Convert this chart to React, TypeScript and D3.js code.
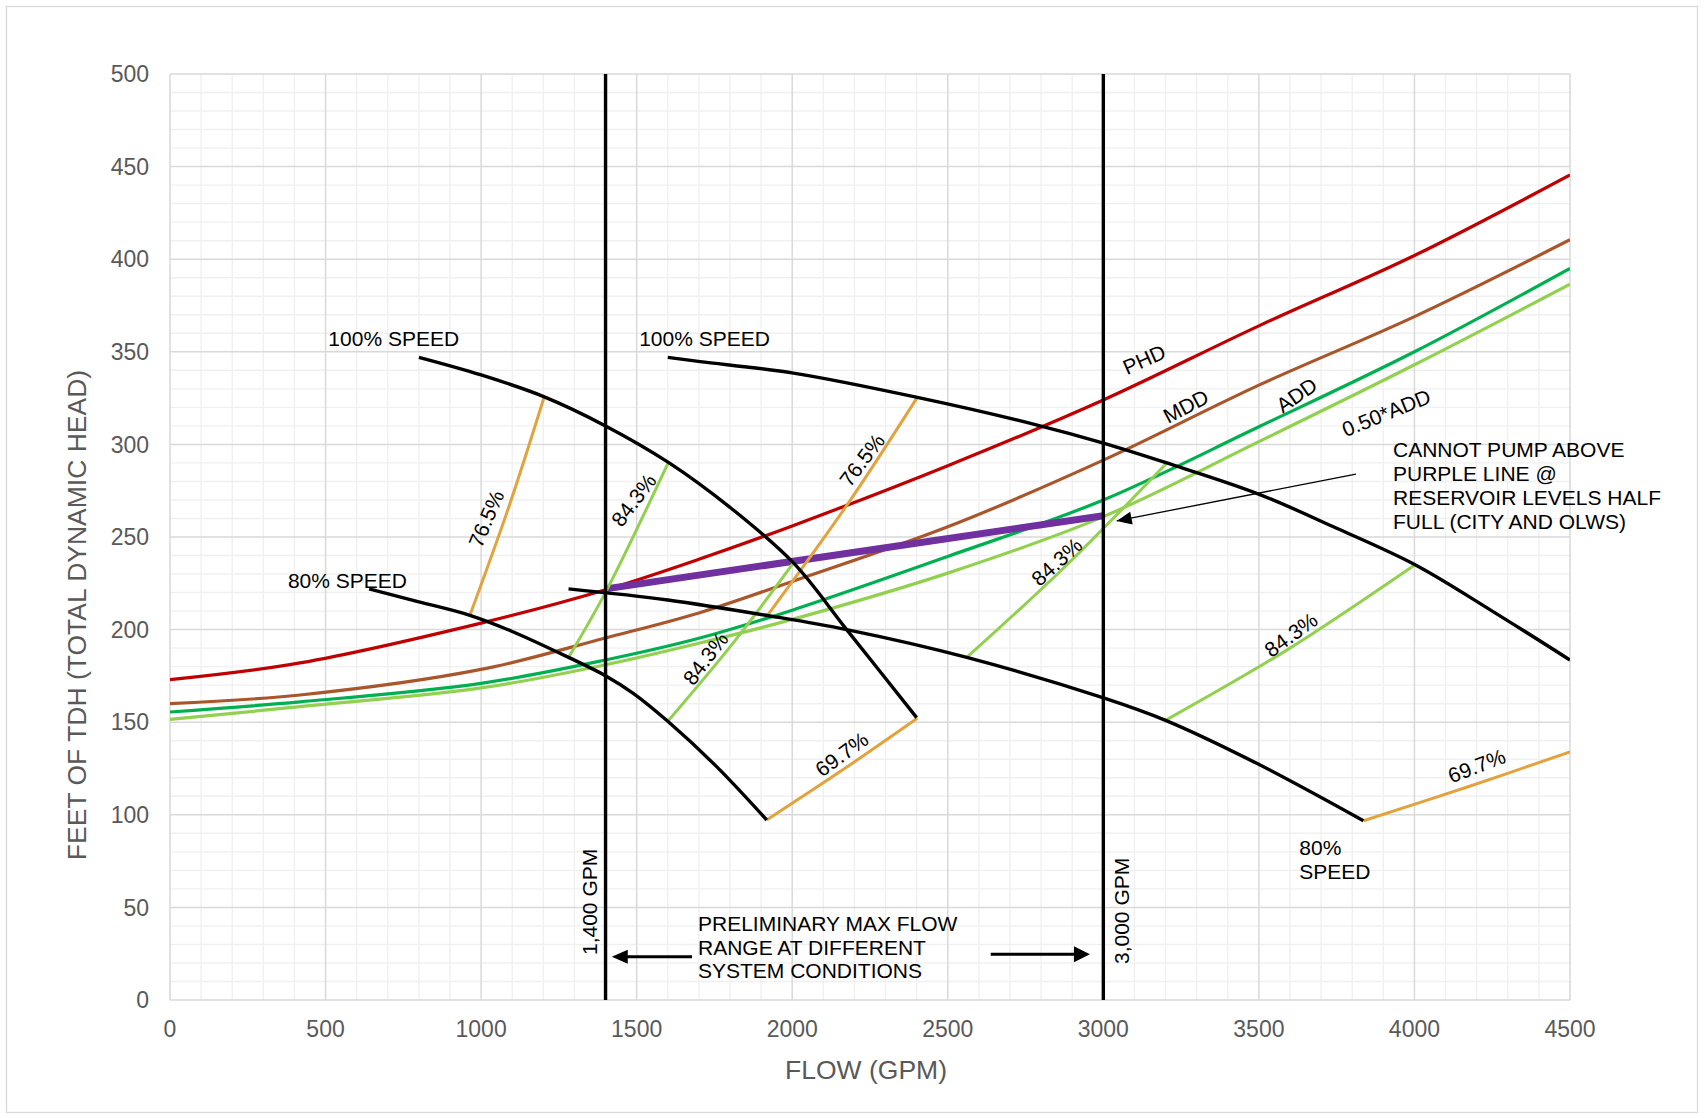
import React from 'react';
import * as d3 from 'd3';

type P = [number, number];

// ---------- axis ticks ----------
const xTicks = [0, 500, 1000, 1500, 2000, 2500, 3000, 3500, 4000, 4500];
const yTicks = [0, 50, 100, 150, 200, 250, 300, 350, 400, 450, 500];

// ---------- system curves (GPM, ft) ----------
const phd: P[] = [[0, 173], [418, 182], [1000, 203.5], [1400, 221.5], [1700, 238], [2000, 256], [2500, 288.5], [3000, 324], [3500, 364], [4000, 402], [4500, 445.5]];
const mdd: P[] = [[0, 160], [418, 164.7], [1000, 178.5], [1400, 195.5], [1700, 209], [2000, 226], [2500, 255.5], [3000, 291.5], [3500, 332], [4000, 369], [4500, 410.5]];
const add: P[] = [[0, 155.5], [418, 161], [1000, 171], [1400, 183.6], [1700, 195.3], [2000, 210.5], [2500, 239.5], [3000, 270], [3500, 309.5], [4000, 350], [4500, 395]];
const halfAdd: P[] = [[0, 151.5], [418, 158.4], [1000, 168.5], [1400, 181], [1700, 192.6], [2000, 205.5], [2500, 230.5], [3000, 261], [3500, 301.5], [4000, 343], [4500, 386.5]];

// ---------- pump curves ----------
const pumpA100: P[] = [[800, 347], [1000, 337.5], [1203, 325.7], [1400, 310], [1602, 290.3], [1800, 266], [2004, 236], [2175, 200], [2400, 152.5]];
const pumpA80: P[] = [[640, 222], [800, 215], [964, 207.7], [1100, 199], [1281, 185], [1401, 175], [1489, 165.6], [1600, 150.5], [1757, 126], [1918, 97.2]];
const pumpB100: P[] = [[1600, 347], [1704, 344.7], [2004, 338.5], [2402, 325.4], [2775, 311], [3003, 300.6], [3204, 290], [3493, 273.6], [3750, 254.7], [4002, 235], [4250, 210], [4500, 183.6]];
const pumpB80: P[] = [[1281, 222], [1600, 216], [1920, 207.6], [2175, 200], [2561, 185], [3003, 163], [3200, 151], [3493, 127.8], [3836, 96.8]];

// ---------- efficiency curves ----------
const eff765A: P[] = [[964, 207.7], [1090, 266.7], [1203, 325.7]];
const eff765B: P[] = [[1920, 207.6], [2175, 267], [2402, 325.4]];
const eff843A: P[] = [[1281, 185], [1401, 220.5], [1602, 290.3]];
const eff843B: P[] = [[1600, 150.5], [1811, 193], [2004, 236]];
const eff843C: P[] = [[2561, 185], [2880, 234.5], [3204, 290]];
const eff843D: P[] = [[3200, 151], [3600, 190], [4002, 235]];
const eff697A: P[] = [[1918, 97.2], [2160, 124], [2402, 152.1]];
const eff697B: P[] = [[3836, 96.8], [4170, 115], [4500, 134]];

// ---------- purple limit ----------
const purple: P[] = [[1400, 222], [3000, 261.5]];

// ---------- vertical flow markers ----------
const markers = [1400, 3000];

// ---------- labels ----------
const effLabels: { t: string; q: number; h: number; r: number }[] = [
  { t: '76.5%', q: 1016, h: 259.9, r: -67 },
  { t: '84.3%', q: 1490, h: 270, r: -53 },
  { t: '84.3%', q: 1721, h: 184.5, r: -53 },
  { t: '76.5%', q: 2224, h: 291.6, r: -53 },
  { t: '84.3%', q: 2850, h: 236.7, r: -42 },
  { t: '84.3%', q: 3603, h: 197.3, r: -36 },
  { t: '69.7%', q: 2159, h: 132.8, r: -36 },
  { t: '69.7%', q: 4200, h: 126.5, r: -21 },
];
const sysLabels: { t: string; q: number; h: number; r: number }[] = [
  { t: 'PHD', q: 3131, h: 345.9, r: -24 },
  { t: 'MDD', q: 3265, h: 320.7, r: -28 },
  { t: 'ADD', q: 3621, h: 326.7, r: -35 },
  { t: '0.50*ADD', q: 3909, h: 317.1, r: -22 },
];
const speedLabels: { t: string; q: number; h: number }[] = [
  { t: '100% SPEED', q: 509, h: 353.1 },
  { t: '100% SPEED', q: 1508, h: 353.1 },
  { t: '80% SPEED', q: 379, h: 222.5 },
  { t: '80%', q: 3630, h: 78.3 },
  { t: 'SPEED', q: 3630, h: 65.2 },
];
const noteLines = ['CANNOT PUMP ABOVE', 'PURPLE LINE @', 'RESERVOIR LEVELS HALF', 'FULL (CITY AND OLWS)'];
const rangeLines = ['PRELIMINARY MAX FLOW', 'RANGE AT DIFFERENT', 'SYSTEM CONDITIONS'];

const FONT = '"Liberation Sans", Arial, Helvetica, sans-serif';

function arrowHead(tx: number, ty: number, fx: number, fy: number, len: number, hw: number) {
  const dx = tx - fx, dy = ty - fy;
  const d = Math.hypot(dx, dy);
  const ux = dx / d, uy = dy / d;
  const bx = tx - ux * len, by = ty - uy * len;
  return `${tx},${ty} ${bx - uy * hw},${by + ux * hw} ${bx + uy * hw},${by - ux * hw}`;
}

export default function App() {
  const W = 1705, H = 1118;
  const x = d3.scaleLinear().domain([0, 4500]).range([170, 1570]);
  const y = d3.scaleLinear().domain([0, 500]).range([1000, 74]);
  const line = d3.line<P>().x(d => x(d[0])).y(d => y(d[1])).curve(d3.curveCatmullRom.alpha(0.5));

  const xMinor = d3.range(0, 4501, 100).filter(v => v % 500 !== 0);
  const yMinor = d3.range(0, 501, 10).filter(v => v % 50 !== 0);

  const sys = [
    { d: phd, c: '#c00000' },
    { d: mdd, c: '#a9562c' },
    { d: add, c: '#00b050' },
    { d: halfAdd, c: '#92d050' },
  ];
  const effs = [
    { d: eff765A, c: '#e2a33e' }, { d: eff765B, c: '#e2a33e' },
    { d: eff697A, c: '#e2a33e' }, { d: eff697B, c: '#e2a33e' },
    { d: eff843A, c: '#92d050' }, { d: eff843B, c: '#92d050' },
    { d: eff843C, c: '#92d050' }, { d: eff843D, c: '#92d050' },
  ];
  const pumps = [pumpA100, pumpA80, pumpB100, pumpB80];

  // arrows (data coords)
  const la = { from: [1678, 23.4] as P, to: [1420, 23.4] as P };
  const ra = { from: [2638, 24.7] as P, to: [2957, 24.7] as P };
  const na = { from: [3812, 284] as P, to: [3043, 258.7] as P };

  return (
    <svg width={W} height={H} style={{ position: 'absolute', left: 0, top: 0, background: '#fff' }} fontFamily={FONT}>
      <defs>
        <clipPath id="plot">
          <rect x={x(0)} y={y(500)} width={x(4500) - x(0)} height={y(0) - y(500)} />
        </clipPath>
      </defs>
      <rect x={0} y={0} width={W} height={H} fill="#fff" />
      <rect x={6.5} y={6.5} width={1691} height={1106} fill="none" stroke="#d9d9d9" strokeWidth={1.3} />

      {/* minor grid */}
      <g stroke="#f0f0f0" strokeWidth={1.4}>
        {xMinor.map(v => <line key={'xm' + v} x1={x(v)} x2={x(v)} y1={y(0)} y2={y(500)} />)}
        {yMinor.map(v => <line key={'ym' + v} x1={x(0)} x2={x(4500)} y1={y(v)} y2={y(v)} />)}
      </g>
      {/* major grid */}
      <g stroke="#d9d9d9" strokeWidth={1.5}>
        {xTicks.map(v => <line key={'xg' + v} x1={x(v)} x2={x(v)} y1={y(0)} y2={y(500)} />)}
        {yTicks.map(v => <line key={'yg' + v} x1={x(0)} x2={x(4500)} y1={y(v)} y2={y(v)} />)}
      </g>

      {/* tick labels */}
      <g fill="#595959" fontSize={23}>
        {yTicks.map(v => (
          <text key={'yl' + v} x={149} y={y(v)} dy="0.36em" textAnchor="end">{v}</text>
        ))}
        {xTicks.map(v => (
          <text key={'xl' + v} x={x(v)} y={1036.5} textAnchor="middle">{v}</text>
        ))}
      </g>
      <text x={866} y={1079} textAnchor="middle" fontSize={26.5} fill="#595959">FLOW (GPM)</text>
      <text transform="translate(86,615) rotate(-90)" textAnchor="middle" fontSize={26.5} fill="#595959">FEET OF TDH (TOTAL DYNAMIC HEAD)</text>

      <g clipPath="url(#plot)" fill="none" strokeLinecap="butt">
        {sys.map((s, i) => <path key={'s' + i} d={line(s.d) || ''} stroke={s.c} strokeWidth={3.2} />)}
        <path d={line(purple) || ''} stroke="#7030a0" strokeWidth={7} />
        {effs.map((s, i) => <path key={'e' + i} d={line(s.d) || ''} stroke={s.c} strokeWidth={3} />)}
        {pumps.map((p, i) => <path key={'p' + i} d={line(p) || ''} stroke="#000" strokeWidth={3.4} />)}
      </g>

      {/* vertical markers */}
      {markers.map(m => (
        <line key={'m' + m} x1={x(m)} x2={x(m)} y1={y(0)} y2={y(500)} stroke="#000" strokeWidth={3.4} />
      ))}
      <text transform={`translate(${x(1400) - 9},955) rotate(-90)`} fontSize={21} fill="#000">1,400 GPM</text>
      <text transform={`translate(${x(3000) + 25.5},964) rotate(-90)`} fontSize={21} fill="#000">3,000 GPM</text>

      {/* labels */}
      <g fontSize={21} fill="#000">
        {speedLabels.map((l, i) => <text key={'sl' + i} x={x(l.q)} y={y(l.h)}>{l.t}</text>)}
        {sysLabels.map((l, i) => (
          <text key={'yl' + i} transform={`translate(${x(l.q)},${y(l.h)}) rotate(${l.r})`} textAnchor="middle" dy="0.36em">{l.t}</text>
        ))}
        {effLabels.map((l, i) => (
          <text key={'el' + i} transform={`translate(${x(l.q)},${y(l.h)}) rotate(${l.r})`} textAnchor="middle" dy="0.36em">{l.t}</text>
        ))}
        {rangeLines.map((t, i) => <text key={'rl' + i} x={698} y={930.7 + i * 23.8}>{t}</text>)}
        {noteLines.map((t, i) => <text key={'nl' + i} x={1393} y={456.7 + i * 24.2}>{t}</text>)}
      </g>

      {/* range arrows */}
      <line x1={x(la.from[0])} y1={y(la.from[1])} x2={x(la.to[0]) + 14} y2={y(la.to[1])} stroke="#000" strokeWidth={3} />
      <polygon points={arrowHead(x(la.to[0]), y(la.to[1]), x(la.from[0]), y(la.from[1]), 16, 7)} fill="#000" />
      <line x1={x(ra.from[0])} y1={y(ra.from[1])} x2={x(ra.to[0]) - 14} y2={y(ra.to[1])} stroke="#000" strokeWidth={3} />
      <polygon points={arrowHead(x(ra.to[0]), y(ra.to[1]), x(ra.from[0]), y(ra.from[1]), 16, 8)} fill="#000" />

      {/* note arrow */}
      <line x1={x(na.from[0])} y1={y(na.from[1])} x2={x(na.to[0])} y2={y(na.to[1])} stroke="#000" strokeWidth={1.3} />
      <polygon points={arrowHead(x(na.to[0]), y(na.to[1]), x(na.from[0]), y(na.from[1]), 15, 6.5)} fill="#000" />
    </svg>
  );
}
